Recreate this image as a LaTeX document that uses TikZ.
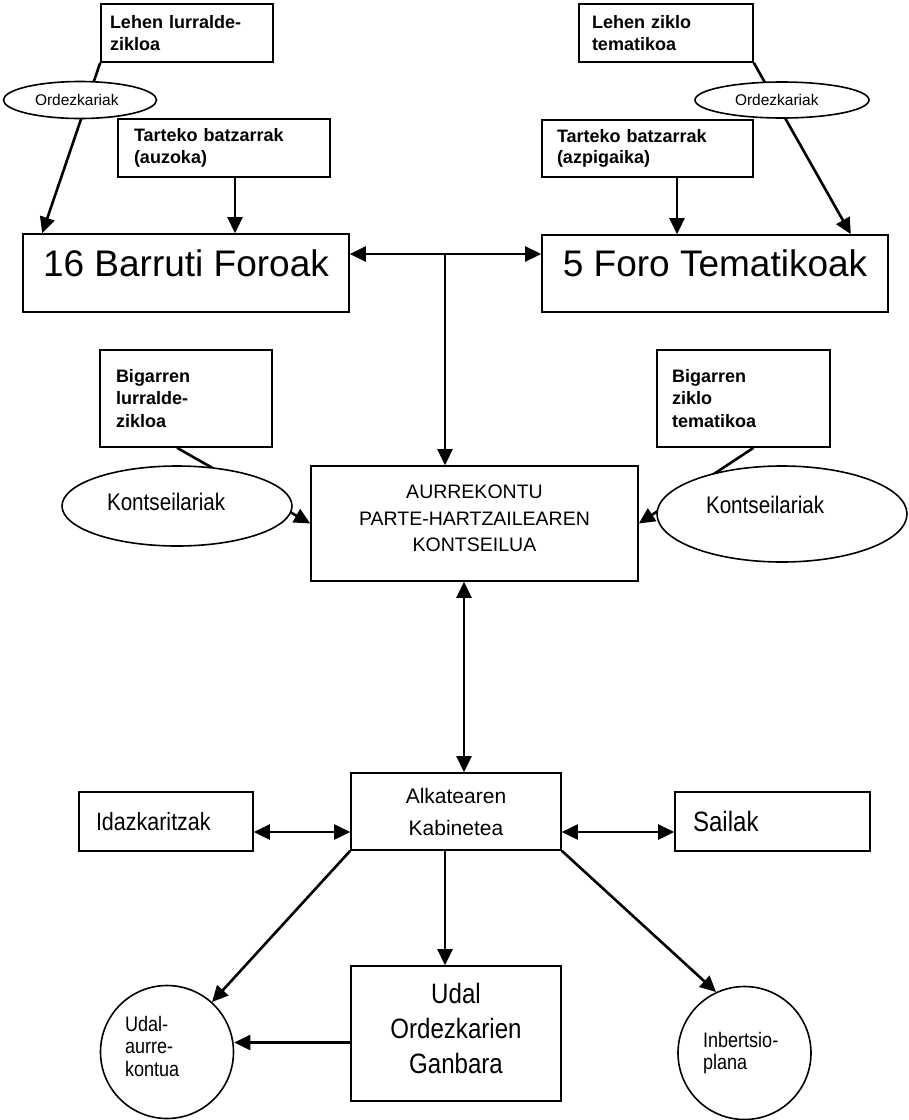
\documentclass[tikz,border=0pt]{standalone}
\usepackage{fontspec}
\setmainfont{Liberation Sans}
\newfontfamily\narrowfont[FakeStretch=0.86]{Liberation Sans}
\usetikzlibrary{arrows.meta,shapes.geometric}

\newcommand{\fsz}[2]{\fontsize{#1}{#2}\selectfont}
\tikzset{
  box/.style={draw, line width=1.6pt, rectangle, align=left, inner ysep=0pt},
  midbox/.style={draw, line width=1.6pt, rectangle, align=center, inner sep=0pt},
  oval/.style={draw, line width=1.6pt, ellipse, fill=white, inner sep=0pt, align=left},
  roundnode/.style={draw, line width=1.6pt, circle, minimum size=133pt, inner sep=0pt, align=left},
  link/.style={line width=2.6pt},
}

\begin{document}
\begin{tikzpicture}[x=1pt, y=-1pt, >={Triangle[length=16pt,width=15pt]}]
\useasboundingbox (0,0) rectangle (909,1120);
%================================================================
%	Top row
\node[box, font=\bfseries\fsz{18}{21.5}, text width=154pt, inner xsep=9pt, minimum height=58pt] (lurrA) at (187,33) {Lehen lurralde-\\zikloa};
\node[box, font=\bfseries\fsz{18}{21.5}, text width=148pt, inner xsep=13pt, minimum height=58pt] (zikA) at (666,33) {Lehen ziklo\\tematikoa};
\node[box, font=\bfseries\fsz{18}{21.5}, text width=180pt, inner xsep=16pt, minimum height=58pt] (tartA) at (224,148) {Tarteko batzarrak\\(auzoka)};
\node[box, font=\bfseries\fsz{18}{21.5}, text width=181pt, inner xsep=15pt, minimum height=57pt] (tartB) at (647.5,148.5) {Tarteko batzarrak\\(azpigaika)};
%----------------------------------------------------------------
\node[box, font=\fsz{37}{40}, minimum width=326pt, minimum height=78pt, inner xsep=0pt, text depth=20pt] (barruti) at (186,273) {16 Barruti Foroak};
\node[box, font=\fsz{37}{40}, minimum width=346pt, minimum height=77pt, inner xsep=0pt, text depth=20pt] (foro) at (715,273.5) {5 Foro Tematikoak};
%================================================================
%	Council
\node[box, font=\bfseries\fsz{18}{22.5}, text width=140pt, inner xsep=16pt, minimum height=97pt] (bigA) at (186,398.5) {Bigarren\\lurralde-\\zikloa};
\node[box, font=\bfseries\fsz{18}{22.5}, text width=143pt, inner xsep=15pt, minimum height=97pt] (bigB) at (743.5,398.5) {Bigarren\\ziklo\\tematikoa};
\node[midbox, font=\fsz{19.5}{26.5}, minimum width=327pt, minimum height=115pt, text depth=10pt] (kontseilua) at (474.5,523.5) {AURREKONTU\\PARTE-HARTZAILEAREN\\KONTSEILUA};
%================================================================
%	Bottom
\node[midbox, font=\fsz{21}{32}, minimum width=210pt, minimum height=77pt] (kab) at (456,811.5) {Alkatearen\\Kabinetea};
\node[box, font=\narrowfont\fsz{25}{28}, text width=140pt, inner xsep=17pt, minimum height=59pt] (idaz) at (166,821.5) {Idazkaritzak};
\node[box, font=\narrowfont\fsz{28}{30}, text width=159pt, inner xsep=18pt, minimum height=59pt] (sail) at (772.5,821.5) {Sailak};
\node[midbox, font=\narrowfont\fsz{28}{35}, minimum width=210pt, minimum height=135pt, text depth=11pt] (udal) at (456,1033.5) {Udal\\Ordezkarien\\Ganbara};
\node[roundnode, font=\narrowfont\fsz{21}{22.5}, text width=84pt, text depth=57pt] (udalaur) at (167,1052) {Udal-\\aurre-\\kontua};
\node[roundnode, font=\narrowfont\fsz{21}{21.5}, text width=83pt] (inb) at (744.5,1053) {Inbertsio-\\plana};
%================================================================
%	Connectors
\draw[link, ->] (lurrA.south west) -- ([xshift=20pt]barruti.north west);
\draw[link, ->] ([xshift=11pt]tartA.south) -- ([xshift=11pt]tartA.south |- barruti.north);
\draw[link, ->] (zikA.south east) -- ([xshift=-38pt]foro.north east);
\draw[link, ->] ([xshift=29.5pt]tartB.south) -- ([xshift=29.5pt]tartB.south |- foro.north);
%----------------------------------------------------------------
\coordinate (junc) at (445,254);
\draw[link, <->] (junc -| barruti.east) -- (junc -| foro.west);
\draw[link, ->] (junc) -- (junc |- kontseilua.north);
\draw[link, ->] ([xshift=-9pt]bigA.south) -- (kontseilua.west);
\draw[link, ->] ([xshift=10pt]bigB.south) -- (kontseilua.east);
%----------------------------------------------------------------
\coordinate (spine) at (464,700);
\draw[link, <->] (spine |- kontseilua.south) -- (spine |- kab.north);
\coordinate (hline) at (456,832);
\draw[link, <->] (hline -| idaz.east) -- (hline -| kab.west);
\draw[link, <->] (hline -| kab.east) -- (hline -| sail.west);
\draw[link, ->] ([xshift=-11pt]kab.south) -- ([xshift=-11pt]udal.north);
\draw[link, ->] (kab.south west) -- (udalaur.48);
\draw[link, ->] (kab.south east) -- (inb.115);
\coordinate (gbr) at ([yshift=-9pt]udal.west);
\draw[link, ->] (gbr) -- (gbr -| udalaur.east);
%================================================================
%	Ovals on top of the lines
\node[oval, font=\fsz{15.5}{18}, text width=90pt, minimum width=153pt, minimum height=37pt] (ordA) at (80,100) {Ordezkariak};
\node[oval, font=\fsz{15.5}{18}, text width=94pt, minimum width=174pt, minimum height=36pt] (ordB) at (782,100) {Ordezkariak};
\node[oval, font=\narrowfont\fsz{24}{26}, text width=140pt, text depth=8pt, minimum width=230pt, minimum height=80pt] (konA) at (177,506) {Kontseilariak};
\node[oval, font=\narrowfont\fsz{24}{26}, text width=152pt, text depth=18pt, minimum width=250pt, minimum height=96pt] (konB) at (782,514) {Kontseilariak};

\end{tikzpicture}
\end{document}
